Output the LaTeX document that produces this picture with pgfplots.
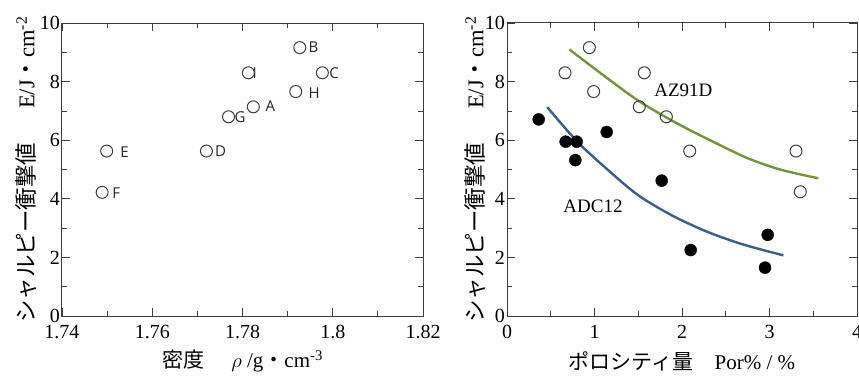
\documentclass[border=0pt]{standalone}
\usepackage{fontspec}
\setmainfont{Liberation Serif}
\newfontfamily\jp{Noto Sans CJK JP}
\newfontfamily\lab{Open Sans}
\usepackage{pgfplots}
\pgfplotsset{compat=1.18}
\definecolor{axgray}{RGB}{60,60,60}
\definecolor{azgreen}{RGB}{118,146,60}
\definecolor{adcblue}{RGB}{60,92,140}
\pgfplotsset{
  common/.style={
    scale only axis, height=293pt,
    ymin=0, ymax=10, ytick={0,2,...,10}, minor y tick num=1,
    tick align=inside, major tick length=8pt, minor tick length=5pt,
    axis line style={axgray, line width=1pt},
    every tick/.style={axgray, line width=0.8pt},
    /pgf/number format/assume math mode=true,
    tick label style={font=\fontsize{20}{24}\selectfont, inner sep=2pt},
    xticklabel style={yshift=-7pt},
    label style={font=\fontsize{21}{25}\selectfont},
    ylabel={{\jp シャルピー衝撃値}\hspace{1.5em}E/J{\jp ・}cm\textsuperscript{-2}},
    ylabel style={at={(axis description cs:0,0.5)}, anchor=center, font=\fontsize{22.5}{26}\selectfont},
    xlabel style={at={(axis description cs:0.5,0)}, anchor=center, yshift=-45pt},
  }
}
\begin{document}
\begin{tikzpicture}
\begin{axis}[common, name=L, at={(0pt,0pt)}, anchor=south west, width=361pt,
  xmin=1.74, xmax=1.82, xtick={1.74,1.76,1.78,1.8,1.82}, minor x tick num=1,
  ylabel style={yshift=36pt},
  xlabel={{\jp 密度}\hspace{1.3em}$\rho$ /g{\jp ・}cm\textsuperscript{-3}}]
\addplot[only marks, mark=o, mark size=6pt, mark options={draw=axgray, line width=1pt}]
coordinates {(1.7927,9.16) (1.7813,8.30) (1.7977,8.30) (1.7918,7.66) (1.7824,7.14)
 (1.7769,6.80) (1.7720,5.63) (1.7499,5.63) (1.7489,4.22)};
\begin{scope}[every node/.style={anchor=west, inner sep=0pt, font=\lab\fontsize{15}{17}\selectfont, text=black!85}]
\node at (axis cs:1.7946,9.16) {B};
\node at (axis cs:1.7822,8.30) {I};
\node at (axis cs:1.7992,8.30) {C};
\node at (axis cs:1.7946,7.60) {H};
\node at (axis cs:1.7851,7.17) {A};
\node at (axis cs:1.7782,6.80) {G};
\node at (axis cs:1.7739,5.63) {D};
\node at (axis cs:1.7529,5.58) {E};
\node at (axis cs:1.7511,4.21) {F};
\end{scope}
\end{axis}
\begin{axis}[common, name=R, at={(445pt,0pt)}, anchor=south west, width=350pt,
  xmin=0, xmax=4, xtick={0,1,2,3,4}, minor x tick num=1,
  ylabel style={yshift=32pt},
  xlabel={{\jp ポロシティ量}\hspace{1em}Por\% / \%}]
\addplot[azgreen, line width=2.4pt, smooth] coordinates {(0.712,9.10) (1.1,8.22) (1.52,7.31)
 (1.977,6.52) (2.34,5.97) (2.739,5.40) (3.12,5.00) (3.558,4.70)};
\addplot[adcblue, line width=2.4pt, smooth] coordinates {(0.46,7.13) (0.80,5.96) (1.14,5.02)
 (1.5,4.12) (1.9,3.41) (2.3,2.86) (2.7,2.44) (3.158,2.07)};
\addplot[only marks, mark=o, mark size=6pt, mark options={draw=axgray, line width=1pt}]
coordinates {(0.941,9.16) (0.663,8.30) (1.569,8.30) (0.990,7.66) (1.512,7.14)
 (1.821,6.80) (2.088,5.63) (3.303,5.63) (3.352,4.24)};
\addplot[only marks, mark=*, mark size=6pt, mark options={draw=black, fill=black}]
coordinates {(0.362,6.71) (0.670,5.95) (0.796,5.95) (0.781,5.32) (1.139,6.28)
 (1.768,4.62) (2.099,2.25) (2.979,2.77) (2.949,1.65)};
\node[font=\fontsize{19}{22}\selectfont] at (axis cs:2.015,7.69) {AZ91D};
\node[font=\fontsize{19}{22}\selectfont] at (axis cs:0.983,3.73) {ADC12};
\end{axis}
\pgfresetboundingbox
\path[use as bounding box] ([shift={(-62pt,-62pt)}]L.south west) rectangle ([shift={(2pt,23pt)}]R.north east);
\end{tikzpicture}
\end{document}
